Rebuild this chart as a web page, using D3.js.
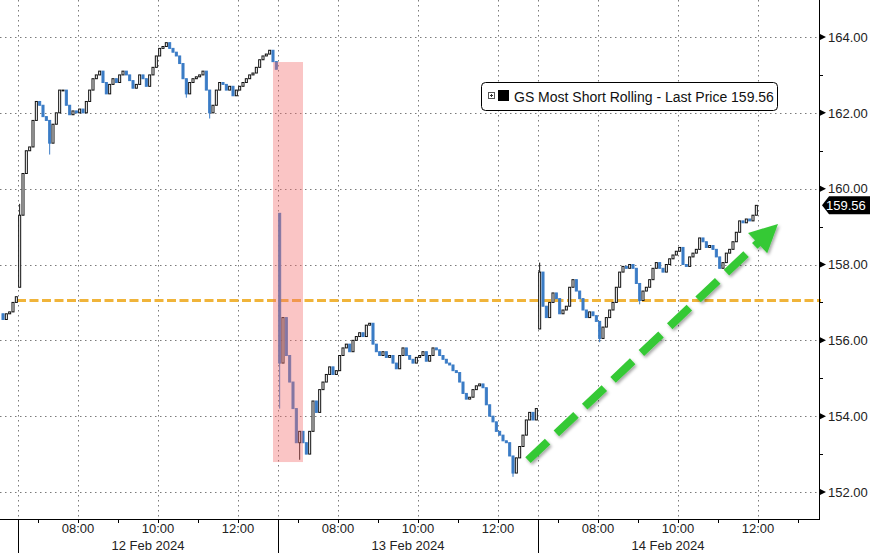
<!DOCTYPE html>
<html><head><meta charset="utf-8">
<script src="https://cdn.jsdelivr.net/npm/d3@7"></script>
<style>
body{margin:0;background:#fff;}
svg{display:block;font-family:"Liberation Sans",Arial,sans-serif;}
</style>
</head><body><svg id="c" width="870" height="553"></svg>
<script>
// ---------------- data ----------------
const dayLabels = ["12 Feb 2024", "13 Feb 2024", "14 Feb 2024"];
const timeTickLabels = ["08:00", "10:00", "12:00"];
const hourTicks = [7, 8, 9, 10, 11, 12, 13];
const yTickValues = [152, 154, 156, 158, 160, 162, 164];
const yMinorValues = [153, 155, 157, 159, 161, 163];
const seriesName = "GS Most Short Rolling - Last Price";
const lastPrice = 159.56;
const refLevel = 157.05;

// previous session tail (5-min bars)
const prevOpen = 156.7;
const prevCloses = [156.55, 156.7, 156.75, 157.0, 157.15];
// first-bar opens of each day
const dayOpens = [157.4, 159.35, 156.3];
// 5-minute closes, 12 Feb
const day1Closes = [159.3,160.4,161.0,161.1,161.8,162.3,162.2,161.9,161.8,161.2,
  161.7,162.0,162.6,162.6,162.2,161.95,162.05,162.0,162.1,162.0,
  162.3,162.6,162.9,163.0,163.1,162.8,162.5,162.75,162.9,162.8,
  163.0,163.1,163.0,162.85,162.65,162.75,163.0,162.9,162.7,163.0,
  163.2,163.5,163.7,163.75,163.85,163.7,163.6,163.5,163.3,162.9,
  162.5,162.8,162.9,162.95,163.0,163.1,162.6,162.0,162.2,162.6,
  162.8,162.75,162.6,162.7,162.45,162.6,162.7,162.8,162.9,163.0,
  163.05,163.2,163.4,163.5,163.55,163.65,163.35,163.15];
// 13 Feb
const day2Closes = [155.4,156.6,155.6,154.9,154.2,153.3,153.6,153.3,153.0,153.6,
  154.4,154.1,154.7,154.9,155.1,155.3,155.1,155.2,155.6,155.8,
  155.9,155.7,156.0,156.1,156.2,156.1,156.4,156.45,155.9,155.7,
  155.6,155.7,155.55,155.6,155.4,155.25,155.6,155.8,155.6,155.5,
  155.4,155.55,155.6,155.7,155.45,155.6,155.8,155.75,155.6,155.5,
  155.4,155.35,155.2,155.15,154.9,154.6,154.45,154.5,154.7,154.8,
  154.85,154.75,154.3,154.0,153.85,153.6,153.5,153.35,153.3,152.95,
  152.5,152.9,153.2,153.5,153.9,154.1,153.9,154.2];
// 14 Feb
const day3Closes = [157.8,156.9,156.6,157.0,157.25,157.1,156.7,156.8,156.9,157.4,
  157.6,157.3,157.1,156.8,156.6,156.75,156.65,156.5,156.05,156.35,
  156.6,156.8,157.0,157.4,157.8,157.95,157.9,158.0,157.9,157.5,
  157.05,157.3,157.4,157.6,157.9,158.05,157.9,157.8,158.0,158.15,
  158.25,158.35,158.45,158.0,157.95,158.2,158.3,158.4,158.7,158.6,
  158.45,158.5,158.4,158.2,157.9,158.05,158.3,158.4,158.6,158.85,
  159.15,159.1,159.2,159.15,159.3,159.56];
// extra wick extremes: [day, barIndex, low, high]
const wickExtremes = [
  [0, 0, 157.4, 159.6], [0, 9, 160.9, 161.8], [0, 50, 162.4, 162.9], [0, 57, 161.85, 162.6],
  [1, 0, 154.2, 159.35], [1, 6, 152.85, 153.6], [1, 70, 152.4, 152.95],
  [2, 0, 156.3, 158.05], [2, 18, 155.95, 156.5], [2, 30, 156.95, 157.5]
];
// annotations (session minutes, price)
const highlightBox = {t0: 382.5, t1: 427.5, lo: 152.79, hi: 163.34};
const trendArrow = {t0: 765, v0: 152.84, t1: 1140, v1: 159.07};

// ---------------- build bars ----------------
const SESSION = 390, BAR = 5;
const bars = [];
let prev = prevOpen;
prevCloses.forEach((c, i) => {
  const t = -BAR * prevCloses.length + i * BAR;
  bars.push({t, o: prev, c, h: Math.max(prev, c), l: Math.min(prev, c)});
  prev = c;
});
[day1Closes, day2Closes, day3Closes].forEach((arr, d) => {
  arr.forEach((c, i) => {
    const o = i === 0 ? dayOpens[d] : arr[i - 1];
    const b = {t: d * SESSION + i * BAR, o, c, h: Math.max(o, c), l: Math.min(o, c), d, i};
    bars.push(b);
  });
});
wickExtremes.forEach(([d, i, lo, hi]) => {
  const b = bars.find(x => x.d === d && x.i === i);
  if (b) { b.l = Math.min(b.l, lo); b.h = Math.max(b.h, hi); }
});

// ---------------- scales ----------------
const svg = d3.select("#c");
const plotRight = 819, plotBottom = 519;
const x = d3.scaleLinear().domain([-27, 1200]).range([0, 818]);
const y = d3.scaleLinear().domain([151.288, 164.976]).range([plotBottom, 0]);
const tOf = (d, hh, mm) => d * SESSION + (hh * 60 + mm - 390);

const gridColor = "#7a7a7a";
// horizontal grid
svg.append("g").selectAll("line").data(yTickValues).join("line")
  .attr("x1", 0).attr("x2", plotRight).attr("y1", d => Math.round(y(d)) + 0.5).attr("y2", d => Math.round(y(d)) + 0.5)
  .attr("stroke", gridColor).attr("stroke-width", 1).attr("stroke-dasharray", "1.5,3.5");
// vertical grid: day boundaries and labelled hours
const vGrid = [];
[0, 1, 2].forEach(d => {
  vGrid.push(d * SESSION);
  [8, 10, 12].forEach(h => vGrid.push(tOf(d, h, 0)));
});
svg.append("g").selectAll("line").data(vGrid).join("line")
  .attr("x1", d => Math.round(x(d)) + 0.5).attr("x2", d => Math.round(x(d)) + 0.5)
  .attr("y1", 0).attr("y2", plotBottom)
  .attr("stroke", gridColor).attr("stroke-width", 1).attr("stroke-dasharray", "1.5,3.5");

// reference level
svg.append("line")
  .attr("x1", x(-1.5)).attr("x2", plotRight + 2)
  .attr("y1", y(refLevel)).attr("y2", y(refLevel))
  .attr("stroke", "#f0b43a").attr("stroke-width", 3).attr("stroke-dasharray", "9,3.5");

// candles
const up = "#111", down = "#3b7cc6";
const bw = x(BAR) - x(0) - 1.3;
const cg = svg.append("g");
bars.forEach(b => {
  const cx = x(b.t + BAR / 2);
  const isUp = b.c >= b.o;
  const col = isUp ? up : down;
  cg.append("line").attr("x1", cx).attr("x2", cx).attr("y1", y(b.h)).attr("y2", y(b.l))
    .attr("stroke", col).attr("stroke-width", 1);
  const top = y(Math.max(b.o, b.c)), bot = y(Math.min(b.o, b.c));
  cg.append("rect").attr("x", cx - bw / 2).attr("y", top).attr("width", bw).attr("height", Math.max(0.8, bot - top))
    .attr("fill", isUp ? "#fff" : down).attr("stroke", col).attr("stroke-width", 1);
});

// highlight box (on top, translucent)
svg.append("rect")
  .attr("x", x(highlightBox.t0)).attr("y", y(highlightBox.hi))
  .attr("width", x(highlightBox.t1) - x(highlightBox.t0))
  .attr("height", y(highlightBox.lo) - y(highlightBox.hi))
  .attr("fill", "rgba(243,110,110,0.4)");

// trend arrow
const defs = svg.append("defs");
const f = defs.append("filter").attr("id", "sh").attr("x", "-20%").attr("y", "-20%").attr("width", "140%").attr("height", "140%");
f.append("feDropShadow").attr("dx", 1.5).attr("dy", 2).attr("stdDeviation", 1.8).attr("flood-color", "#000").attr("flood-opacity", 0.35);
const ax0 = x(trendArrow.t0), ay0 = y(trendArrow.v0), ax1 = x(trendArrow.t1), ay1 = y(trendArrow.v1);
const ang = Math.atan2(ay1 - ay0, ax1 - ax0);
const headLen = 28, headHalf = 14;
const bx = ax1 - headLen * Math.cos(ang), by = ay1 - headLen * Math.sin(ang);
const ag = svg.append("g").attr("filter", "url(#sh)");
ag.append("line").attr("x1", ax0).attr("y1", ay0).attr("x2", bx + 2 * Math.cos(ang)).attr("y2", by + 2 * Math.sin(ang))
  .attr("stroke", "#36c936").attr("stroke-width", 8).attr("stroke-dasharray", "27,12");
const px = -Math.sin(ang), py = Math.cos(ang);
ag.append("path").attr("d", `M${ax1},${ay1}L${bx + px * headHalf},${by + py * headHalf}L${bx - px * headHalf},${by - py * headHalf}Z`)
  .attr("fill", "#36c936");

// axes lines
svg.append("line").attr("x1", 0).attr("x2", plotRight).attr("y1", plotBottom + 0.5).attr("y2", plotBottom + 0.5).attr("stroke", "#000");
svg.append("line").attr("x1", plotRight + 0.5).attr("x2", plotRight + 0.5).attr("y1", 0).attr("y2", plotBottom + 1).attr("stroke", "#000");

// y ticks
const yg = svg.append("g");
yTickValues.forEach(v => {
  const yy = y(v);
  yg.append("path").attr("d", `M${plotRight + 1},${yy - 3}L${plotRight + 7},${yy}L${plotRight + 1},${yy + 3}Z`).attr("fill", "#000");
  yg.append("text").attr("x", 828).attr("y", yy).attr("dy", "0.36em").attr("font-size", 13).attr("fill", "#222")
    .text(d3.format(".2f")(v));
});
yMinorValues.forEach(v => {
  yg.append("line").attr("x1", plotRight).attr("x2", plotRight + 4).attr("y1", Math.round(y(v)) + 0.5).attr("y2", Math.round(y(v)) + 0.5).attr("stroke", "#000");
});

// x ticks
const xg = svg.append("g");
[0, 1, 2].forEach(d => {
  hourTicks.forEach(h => {
    const xx = Math.round(x(tOf(d, h, 0))) + 0.5;
    xg.append("line").attr("x1", xx).attr("x2", xx).attr("y1", plotBottom).attr("y2", plotBottom + 4).attr("stroke", "#000");
  });
  timeTickLabels.forEach(lbl => {
    const [hh, mm] = lbl.split(":").map(Number);
    xg.append("text").attr("x", x(tOf(d, hh, mm))).attr("y", 533).attr("text-anchor", "middle")
      .attr("font-size", 13).attr("fill", "#222").text(lbl);
  });
  xg.append("text").attr("x", (x(d * SESSION) + x((d + 1) * SESSION)) / 2).attr("y", 550).attr("text-anchor", "middle")
    .attr("font-size", 13).attr("fill", "#222").text(dayLabels[d]);
  const bxx = Math.round(x(d * SESSION)) + 0.5;
  xg.append("line").attr("x1", bxx).attr("x2", bxx).attr("y1", plotBottom).attr("y2", 553).attr("stroke", "#000");
});

// legend
const lg = svg.append("g");
lg.append("rect").attr("x", 481.5).attr("y", 82.5).attr("width", 296).attr("height", 28).attr("rx", 4)
  .attr("fill", "#fff").attr("stroke", "#000");
lg.append("rect").attr("x", 488.5).attr("y", 92.5).attr("width", 6).attr("height", 6).attr("fill", "#fff").attr("stroke", "#555");
lg.append("path").attr("d", "M490,95.5h3M491.5,94v3").attr("stroke", "#333");
lg.append("rect").attr("x", 498).attr("y", 90).attr("width", 11).attr("height", 11).attr("fill", "#000");
lg.append("text").attr("x", 514).attr("y", 101.5).attr("font-size", 14).attr("fill", "#111")
  .text(`${seriesName} ${d3.format(".2f")(lastPrice)}`);

// last price tag
const ly = y(lastPrice);
svg.append("path").attr("d", `M${plotRight + 3},${ly}L${plotRight + 10},${ly - 9}H870V${ly + 9}H${plotRight + 10}Z`).attr("fill", "#000");
svg.append("text").attr("x", 826).attr("y", ly).attr("dy", "0.36em").attr("font-size", 13).attr("fill", "#fff")
  .text(d3.format(".2f")(lastPrice));
</script>
</body></html>
